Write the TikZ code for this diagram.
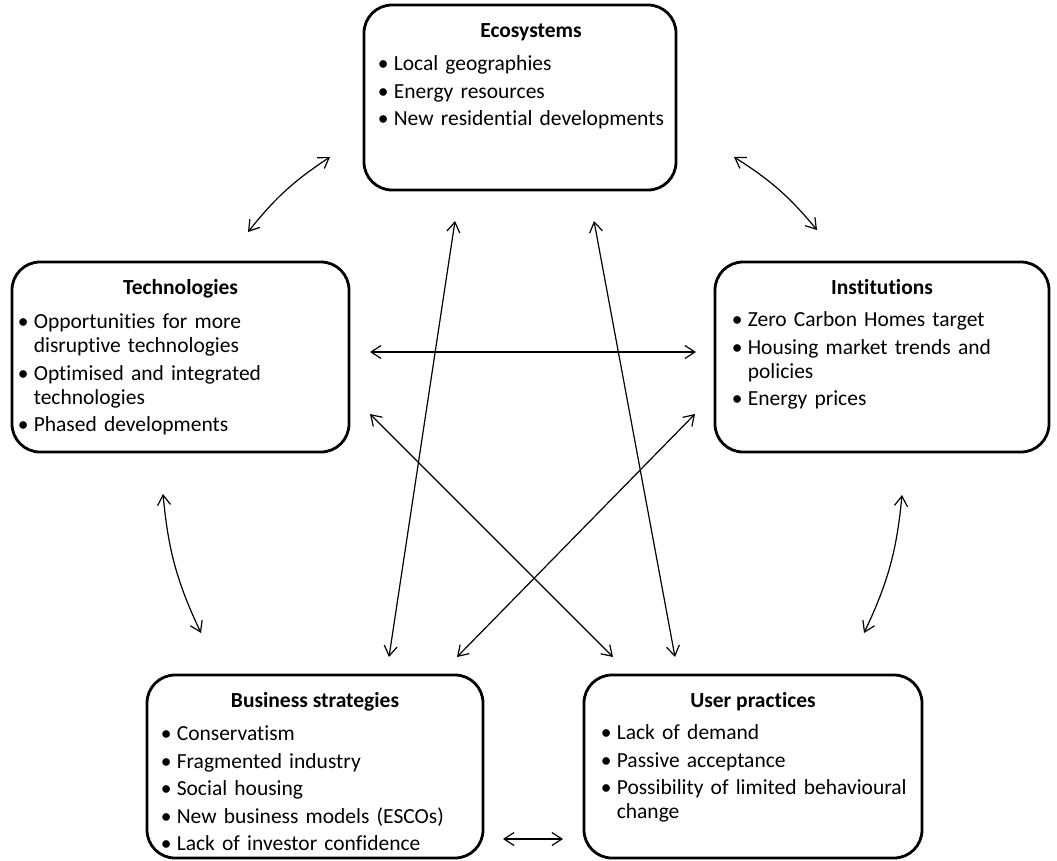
\documentclass[tikz,border=0pt]{standalone}
\usepackage{fontspec}
\setmainfont{Carlito}[Ligatures=NoCommon]
\usetikzlibrary{arrows.meta,calc}
% bulleted line with hanging indent; \bl adds the small gap between items
\newcommand\blfirst[1]{\hangindent=16pt\hangafter=1\noindent\makebox[16pt][l]{•}#1\par}
\newcommand\bl[1]{\vspace{3.5pt}\blfirst{#1}}
\begin{document}
\begin{tikzpicture}[x=1pt,y=-1pt,
  box/.style={draw,line width=2.8pt,rounded corners=28pt,inner sep=0pt},
  head/.style={anchor=base,inner sep=0pt,font=\fontsize{21.5}{24}\selectfont\bfseries},
  items/.style={anchor=base west,inner sep=0pt,text width=320pt,font=\fontsize{21.5}{24}\selectfont\raggedright},
  tip/.tip={Straight Barb[length=10pt,width=13pt]},
  link/.style={line width=1.2pt,tip-tip}]
\useasboundingbox (0,0) rectangle (1057,861);

% boxes
\node[box,minimum width=312pt,minimum height=185pt] (eco)  at (520,97.5) {};
\node[box,minimum width=337pt,minimum height=190pt] (tech) at (180.5,357) {};
\node[box,minimum width=334pt,minimum height=190pt] (inst) at (882,357) {};
\node[box,minimum width=336pt,minimum height=183pt] (bus)  at (315,766.5) {};
\node[box,minimum width=338pt,minimum height=183pt] (user) at (753,766.5) {};

% headings
\node[head] (ecoH)  at ($(eco.north)+(11,34)$)  {Ecosystems};
\node[head] (techH) at ($(tech.north)+(0,34)$)  {Technologies};
\node[head] (instH) at ($(inst.north)+(0,34)$)  {Institutions};
\node[head] (busH)  at ($(bus.north)+(0,34)$)   {Business strategies};
\node[head] (userH) at ($(user.north)+(0,34)$)  {User practices};

% bullet lists
\node[items] (ecoL) at ($(eco.north west)+(15,67)$) {%
  \blfirst{Local geographies}\bl{Energy resources}\bl{New residential developments}};
\node[items] (techL) at ($(tech.north west)+(7,68)$) {%
  \blfirst{Opportunities for more\newline disruptive technologies}\bl{Optimised and integrated\newline technologies}\bl{Phased developments}};
\node[items] (instL) at ($(inst.north west)+(18,66)$) {%
  \blfirst{Zero Carbon Homes target}\bl{Housing market trends and\newline policies}\bl{Energy prices}};
\node[items] (busL) at ($(bus.north west)+(15,67)$) {%
  \blfirst{Conservatism}\bl{Fragmented industry}\bl{Social housing}\bl{New business models (ESCOs)}\bl{Lack of investor confidence}};
\node[items] (userL) at ($(user.north west)+(18,66)$) {%
  \blfirst{Lack of demand}\bl{Passive acceptance}\bl{Possibility of limited behavioural\newline change}};

% free ends of the two-headed arrows
\coordinate (et1) at (330,157);  \coordinate (et2) at (248,232);
\coordinate (ei1) at (734,157);  \coordinate (ei2) at (817,230);
\coordinate (tb1) at (163,494);  \coordinate (tb2) at (201,633);
\coordinate (iu1) at (902,495);  \coordinate (iu2) at (864,633);
\coordinate (ti1) at (370,352);  \coordinate (ti2) at (696,352);
\coordinate (bu1) at (503,839);  \coordinate (bu2) at (563,839);
\coordinate (eb1) at (455,221);  \coordinate (eb2) at (389,657);
\coordinate (eu1) at (594,221);  \coordinate (eu2) at (675,657);
\coordinate (tu1) at (370,414);  \coordinate (tu2) at (613,657);
\coordinate (ib1) at (695,414);  \coordinate (ib2) at (457,657);

% connectors
\draw[link] (et1) to[bend right=9]  (et2);
\draw[link] (ei1) to[bend left=9]   (ei2);
\draw[link] (tb1) to[bend right=10] (tb2);
\draw[link] (iu1) to[bend left=10]  (iu2);
\draw[link] (ti1) -- (ti2);
\draw[link] (bu1) -- (bu2);
\draw[link] (eb1) -- (eb2);
\draw[link] (eu1) -- (eu2);
\draw[link] (tu1) -- (tu2);
\draw[link] (ib1) -- (ib2);
\end{tikzpicture}
\end{document}
